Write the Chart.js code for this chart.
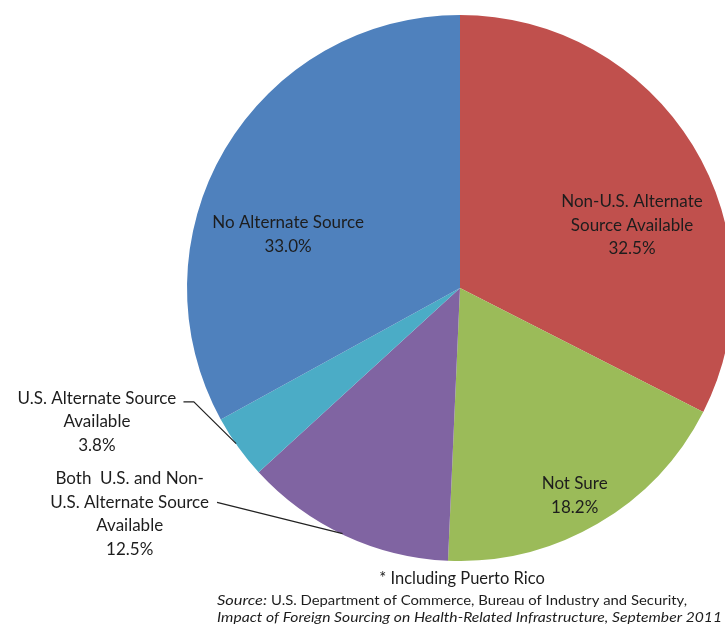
<!DOCTYPE html>
<html>
<head>
<meta charset="utf-8">
<script src="https://cdn.jsdelivr.net/npm/chart.js@4.4.0/dist/chart.umd.min.js"></script>
<style>
  html, body { margin: 0; padding: 0; background: #fff; overflow: hidden; }
  #wrap { position: relative; width: 800px; height: 625px; }
</style>
</head>
<body>
<div id="wrap"><canvas id="pieChart" width="800" height="625"></canvas></div>
<script>
// slices, clockwise from 12 o'clock
const sliceNames = [
  ["Non-U.S. Alternate", "Source Available"],
  ["Not Sure"],
  ["Both  U.S. and Non-", "U.S. Alternate Source", "Available"],
  ["U.S. Alternate Source", "Available"],
  ["No Alternate Source"]
];
const sliceValues = [32.5, 18.2, 12.5, 3.8, 33.0];
const sliceColors = ["#C0504D", "#9BBB59", "#8064A2", "#4BACC6", "#4F81BD"];

// label placement relative to pie centre, in units of radius
const labelSpots = [
  { x: 0.63, y: -0.23 },
  { x: 0.42, y: 0.76 },
  { x: -1.21, y: 0.827, leader: [[-0.89, 0.785], [-0.43, 0.90]] },
  { x: -1.33, y: 0.49, leader: [[-1.013, 0.417], [-0.975, 0.417], [-0.82, 0.57]] },
  { x: -0.63, y: -0.195 }
];

const textFont = "17px Lato, 'Open Sans', sans-serif";
const lineGap = 23.5;

// draw text squeezed/stretched to a given width
function fitText(ctx, text, x, y, width) {
  const w = ctx.measureText(text).width;
  ctx.save();
  ctx.translate(x, y);
  ctx.scale(width / w, 1);
  ctx.fillText(text, 0, 0);
  ctx.restore();
}

const labelPlugin = {
  id: "sliceLabels",
  afterDraw(chart) {
    const ctx = chart.ctx;
    const arcs = chart.getDatasetMeta(0).data;
    ctx.save();
    ctx.font = textFont;
    ctx.fillStyle = "#1d1d1d";
    ctx.textAlign = "center";
    ctx.textBaseline = "middle";
    arcs.forEach((arc, i) => {
      const r = arc.outerRadius;
      const spot = labelSpots[i];
      const lines = sliceNames[i].concat([sliceValues[i].toFixed(1) + "%"]);
      const cx = arc.x + spot.x * r;
      const top = arc.y + spot.y * r - (lines.length - 1) * lineGap / 2;
      lines.forEach((t, k) => ctx.fillText(t, cx, top + k * lineGap));
      if (spot.leader) {
        ctx.beginPath();
        ctx.strokeStyle = "#222";
        ctx.lineWidth = 1.2;
        spot.leader.forEach((p, k) => {
          const px = arc.x + p[0] * r, py = arc.y + p[1] * r;
          if (k === 0) ctx.moveTo(px, py); else ctx.lineTo(px, py);
        });
        ctx.stroke();
      }
    });

    // footnotes
    ctx.fillStyle = "#1d1d1d";
    ctx.font = "16.5px Lato, 'Open Sans', sans-serif";
    ctx.textAlign = "center";
    ctx.fillText("* Including Puerto Rico", 462, 579);
    ctx.textAlign = "left";
    ctx.font = "italic 13px Lato, 'Open Sans', sans-serif";
    fitText(ctx, "Source:", 217, 601, 50);
    ctx.font = "13px Lato, 'Open Sans', sans-serif";
    fitText(ctx, "U.S. Department of Commerce, Bureau of Industry and Security,", 271, 601, 416);
    ctx.font = "italic 13px Lato, 'Open Sans', sans-serif";
    fitText(ctx, "Impact of Foreign Sourcing on Health-Related Infrastructure, September 2011", 217, 618, 505);
    ctx.restore();
  }
};

new Chart(document.getElementById("pieChart"), {
  type: "pie",
  data: {
    labels: sliceNames.map(n => n.join(" ")),
    datasets: [{
      data: sliceValues,
      backgroundColor: sliceColors,
      borderWidth: 0
    }]
  },
  options: {
    responsive: false,
    animation: false,
    layout: { padding: { left: 187, right: 67, top: 15, bottom: 64 } },
    plugins: {
      legend: { display: false },
      tooltip: { enabled: false }
    }
  },
  plugins: [labelPlugin]
});
</script>
</body>
</html>
